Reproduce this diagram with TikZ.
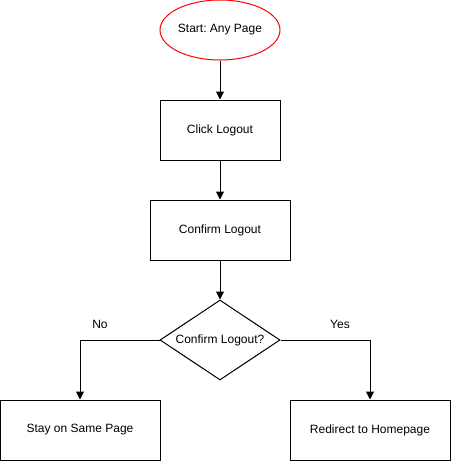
\documentclass[tikz,border=0pt]{standalone}
\usepackage{fontspec}
\setmainfont{Liberation Sans}
\frenchspacing
\usetikzlibrary{shapes.geometric,arrows.meta}
\begin{document}
\begin{tikzpicture}[x=0.75pt,y=-0.75pt,
  every node/.style={font=\fontsize{9}{11}\selectfont},
  box/.style={draw,line width=0.75pt,rectangle,minimum height=45pt,inner sep=0pt},
  flow/.style={line width=0.75pt,-{Triangle[length=6pt,width=6pt]}}]
  \useasboundingbox (0,0) rectangle (451,461);
  \node[draw=red,line width=0.75pt,ellipse,minimum width=90pt,minimum height=45pt,inner sep=0pt] (start) at (220,30) {Start: Any Page};
  \node[box,minimum width=90pt] (click) at (220,130) {Click Logout};
  \node[box,minimum width=105pt] (confirm) at (220,230) {Confirm Logout};
  \node[draw,line width=0.75pt,diamond,aspect=1.5,inner sep=0pt,minimum width=90pt,minimum height=60pt] (ask) at (220,340) {Confirm Logout?};
  \node[box,minimum width=120pt] (stay) at (80,430) {Stay on Same Page};
  \node[box,minimum width=120pt] (home) at (370,430) {Redirect to Homepage};
  \node (no) at (100,324) {No};
  \node (yes) at (340,324) {Yes};
  \draw[flow] (start) -- (click);
  \draw[flow] (click) -- (confirm);
  \draw[flow] (confirm) -- (ask);
  \draw[flow] (ask.west) -| (stay.north);
  \draw[flow] (ask.east) -| (home.north);
\end{tikzpicture}
\end{document}
